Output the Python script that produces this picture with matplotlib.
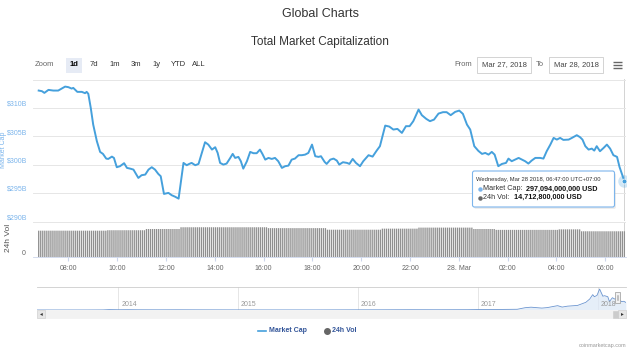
import numpy as np
import matplotlib.pyplot as plt
from matplotlib.patches import Rectangle, FancyBboxPatch
from datetime import datetime, timedelta

W, H = 640, 351
plt.rcParams['font.family'] = ['Liberation Sans', 'DejaVu Sans']

# market cap, minutes after 2018-03-27 06:47 (UTC+7) -> billions USD
cap_minutes = [0, 8, 14, 24, 36, 48, 65, 73, 81, 85,
               95, 106, 114, 118, 122, 128, 134, 143, 151, 158,
               166, 171, 180, 185, 192, 200, 210, 217, 225, 233,
               245, 253, 262, 270, 278, 286, 294, 300, 308, 319,
               327, 335, 344, 356, 364, 370, 376, 385, 393, 401,
               409, 417, 426, 434, 440, 446, 454, 462, 471, 477,
               483, 491, 497, 503, 512, 520, 528, 536, 544, 550,
               557, 565, 573, 581, 589, 598, 606, 614, 622, 630,
               639, 647, 655, 663, 672, 680, 688, 694, 703, 708,
               717, 725, 733, 739, 748, 758, 764, 772, 780, 790,
               798, 811, 821, 831, 839, 852, 862, 872, 882, 893,
               903, 912, 921, 934, 942, 953, 962, 972, 983, 994,
               1003, 1013, 1024, 1034, 1043, 1053, 1061, 1071, 1081, 1090,
               1098, 1106, 1114, 1121, 1130, 1139, 1149, 1155, 1163, 1171,
               1180, 1188, 1196, 1204, 1212, 1221, 1233, 1241, 1249, 1258,
               1266, 1274, 1282, 1290, 1303, 1311, 1323, 1331, 1337, 1344,
               1352, 1360, 1366, 1372, 1380, 1389, 1397, 1405, 1413, 1422,
               1428, 1440]
cap_values = [313.06, 312.95, 312.65, 313.18, 313.06, 313.06, 313.76, 313.66, 313.41, 313.53,
              312.83, 312.83, 312.60, 312.83, 312.48, 310.01, 307.06, 304.13, 302.24, 301.89,
              301.06, 301.00, 301.41, 301.18, 299.54, 299.72, 300.25, 299.42, 299.29, 299.12,
              297.65, 298.13, 298.24, 299.12, 299.54, 299.12, 298.36, 297.95, 294.83, 295.01,
              294.60, 294.35, 294.00, 300.30, 299.89, 300.12, 300.30, 299.89, 300.12, 302.06,
              303.95, 303.53, 302.65, 303.07, 302.06, 300.30, 300.00, 300.18, 301.18, 301.89,
              301.18, 301.36, 300.60, 299.29, 300.60, 302.24, 302.01, 302.01, 302.65, 301.89,
              300.88, 301.18, 301.00, 301.18, 300.60, 299.42, 299.72, 299.82, 300.88, 301.06,
              301.66, 301.66, 301.76, 302.06, 303.53, 301.48, 301.36, 301.48, 300.48, 300.12,
              300.88, 301.06, 300.71, 300.00, 300.42, 300.30, 300.12, 301.00, 300.30, 299.72,
              300.60, 301.66, 301.41, 302.47, 303.25, 306.88, 306.71, 306.18, 306.30, 305.59,
              306.78, 306.78, 307.66, 309.71, 308.72, 308.06, 307.66, 307.94, 309.00, 309.25,
              309.25, 308.72, 309.30, 309.53, 308.95, 307.06, 306.18, 303.25, 302.42, 301.89,
              302.06, 301.76, 302.24, 301.76, 299.72, 300.12, 300.30, 301.06, 300.60, 300.88,
              301.18, 300.88, 300.60, 300.18, 300.71, 301.18, 301.18, 301.06, 302.36, 303.53,
              304.71, 304.41, 304.71, 304.36, 304.41, 304.71, 305.19, 304.84, 304.41, 303.25,
              302.65, 302.82, 302.47, 303.25, 302.36, 302.95, 303.53, 302.82, 301.66, 301.36,
              299.60, 297.09]

# 24h volume (billions USD), flat over stretches starting at these minutes
vol_start_min = [0, 168, 262, 348, 564, 707, 844, 933, 1066, 1122, 1276, 1333]
vol_level = [15.05, 15.3, 16.0, 17.0, 16.5, 15.6, 16.2, 16.8, 16.0, 15.5, 15.8, 14.7]

price_ticks = [290, 295, 300, 305, 310, 315]
price_labels = ['$290B', '$295B', '$300B', '$305B', '$310B', '']
time_labels = ['08:00', '10:00', '12:00', '14:00', '16:00', '18:00',
               '20:00', '22:00', '28. Mar', '02:00', '04:00', '06:00']

# navigator: whole history of total market cap (billions USD)
nav_dates = ['2013-04-28', '2013-06-01', '2013-08-01', '2013-10-01', '2013-11-15', '2013-12-04',
             '2014-01-01', '2014-02-01', '2014-03-01', '2014-05-01', '2014-07-01', '2014-09-01',
             '2014-11-01', '2015-01-15', '2015-03-01', '2015-06-01', '2015-09-01', '2015-11-05',
             '2016-01-01', '2016-03-01', '2016-06-15', '2016-09-01', '2016-12-01', '2017-01-05',
             '2017-03-01', '2017-05-01', '2017-05-25', '2017-06-12', '2017-07-15', '2017-08-01',
             '2017-09-01', '2017-09-15', '2017-10-01', '2017-11-01', '2017-11-26', '2017-12-08',
             '2017-12-17', '2017-12-22', '2017-12-30', '2018-01-07', '2018-01-17', '2018-01-22',
             '2018-02-01', '2018-02-06', '2018-02-15', '2018-02-22', '2018-03-01', '2018-03-07',
             '2018-03-15', '2018-03-22', '2018-03-28']
nav_values = [1.5, 1.2, 1.2, 1.9, 3.5, 15, 10, 12, 8.5, 7, 8.5, 6.5, 5.5, 4.5, 3.6, 3.5, 3.6, 5.5,
              7, 7.5, 11, 9.5, 11.5, 17.5, 20.5, 28, 90, 110, 75, 95, 170, 115, 150, 180, 300, 430,
              600, 520, 570, 820, 540, 560, 520, 330, 480, 430, 440, 400, 330, 340, 297]
nav_years = [2014, 2015, 2016, 2017, 2018]

zoom_buttons = ['1d', '7d', '1m', '3m', '1y', 'YTD', 'ALL']
date_from = 'Mar 27, 2018'
date_to = 'Mar 28, 2018'

tooltip_when = 'Wednesday, Mar 28 2018, 06:47:00 UTC+07:00'
tooltip_cap = 297094000000
tooltip_vol = 14712800000

LINE = '#45a0dc'
start = datetime(2018, 3, 27, 6, 47)
times = [start + timedelta(minutes=m) for m in cap_minutes]
end = times[-1]

fig = plt.figure(figsize=(W / 100, H / 100), dpi=100)
fig.patch.set_facecolor('white')


def box(x0, y0, x1, y1):
    return [x0 / W, 1 - y1 / H, (x1 - x0) / W, (y1 - y0) / H]


# price panel
ax = fig.add_axes(box(33, 79, 626, 221.3))
ax.plot(times, cap_values, color=LINE, lw=1.4, solid_joinstyle='round', zorder=3)
ax.plot([end], [cap_values[-1]], 'o', ms=9, color=LINE, alpha=0.25, mec='none', zorder=4)
ax.plot([end], [cap_values[-1]], 'o', ms=3.5, color=LINE, mec='white', mew=0.5, zorder=5)
ax.axvline(end, color='#cccccc', lw=0.6, zorder=1)
ax.set_ylim(290, 315.1)
ax.set_yticks(price_ticks)
ax.set_yticklabels(price_labels)
for lbl in ax.get_yticklabels():
    lbl.set_va('bottom')
ax.grid(axis='y', color='#e6e6e6', lw=0.7)
ax.tick_params(axis='y', length=0, labelcolor='#7cb5ec', labelsize=5, pad=4)
ax.tick_params(axis='x', length=0, labelbottom=False)
for s in ax.spines.values():
    s.set_visible(False)

# volume panel
axv = fig.add_axes(box(33, 222, 626, 257), sharex=ax)
bar_min = np.arange(0, 1441, 5)
bar_vol = np.array(vol_level)[np.searchsorted(vol_start_min, bar_min, side='right') - 1]
bar_t = [start + timedelta(minutes=int(m)) for m in bar_min]
axv.bar(bar_t, bar_vol, width=3.2 / 1440, color='#8f8f8f', lw=0, snap=False, zorder=2)
axv.axvline(end, color='#cccccc', lw=0.6, zorder=1)
axv.set_ylim(0, 20)
axv.set_yticks([0, 20])
axv.set_yticklabels(['0', ''])
for lbl in axv.get_yticklabels():
    lbl.set_va('bottom')
axv.grid(axis='y', color='#e6e6e6', lw=0.7)
axv.tick_params(axis='y', length=0, labelcolor='#666666', labelsize=5, pad=5.5)
tick_t = [datetime(2018, 3, 27, 8) + timedelta(hours=2 * i) for i in range(len(time_labels))]
axv.set_xticks(tick_t)
axv.set_xticklabels(time_labels)
axv.tick_params(axis='x', length=3, color='#ccd6eb', labelcolor='#666666', labelsize=5, pad=3)
for s in axv.spines.values():
    s.set_visible(False)
axv.spines['bottom'].set_visible(True)
axv.spines['bottom'].set_color('#ccd6eb')
axv.spines['bottom'].set_linewidth(0.6)
ax.set_xlim(start - timedelta(minutes=14), start + timedelta(minutes=1444))

# navigator
axn = fig.add_axes(box(37, 287, 626, 310))
nd = [datetime.strptime(d, '%Y-%m-%d') for d in nav_dates]
axn.fill_between(nd, nav_values, color='#dbe7f6', alpha=0.7, lw=0)
axn.plot(nd, nav_values, color='#6b95d0', lw=0.6)
axn.set_xlim(datetime(2013, 4, 28), datetime(2018, 3, 28, 12))
axn.set_ylim(0, 900)
for yr in nav_years:
    axn.axvline(datetime(yr, 1, 1), color='#e6e6e6', lw=0.7, zorder=0)
    axn.text(datetime(yr, 1, 10), 70, str(yr), fontsize=5, color='#999999', va='bottom')
axn.set_xticks([])
axn.set_yticks([])
for s in axn.spines.values():
    s.set_visible(False)
axn.spines['top'].set_visible(True)
axn.spines['top'].set_color('#cccccc')
axn.spines['top'].set_linewidth(0.6)

# overlay for page elements, in pixel coordinates
ov = fig.add_axes([0, 0, 1, 1])
ov.set_xlim(0, W)
ov.set_ylim(H, 0)
ov.axis('off')
ov.patch.set_visible(False)

ov.text(320, 14, 'Global Charts', ha='center', va='center', fontsize=9, color='#333333')
ov.text(320, 42, 'Total Market Capitalization', ha='center', va='center', fontsize=8.5, color='#333333')

ov.text(44, 65, 'Zoom', ha='center', va='center', fontsize=5.5, color='#666666')
ov.add_patch(Rectangle((65.5, 57.5), 16, 15, color='#e6ebf5', lw=0))
for lbl, xc in zip(zoom_buttons, [73.5, 94, 115, 136, 157, 178, 199]):
    ov.text(xc, 65, lbl, ha='center', va='center', fontsize=5.5,
            color='#000000' if lbl == '1d' else '#333333', fontweight='bold' if lbl == '1d' else 'normal')
ov.text(463, 65, 'From', ha='center', va='center', fontsize=5.5, color='#666666')
ov.add_patch(Rectangle((477, 57), 54, 16, fill=False, ec='#cccccc', lw=0.6))
ov.text(504, 65, date_from, ha='center', va='center', fontsize=5.5, color='#444444')
ov.text(540, 65, 'To', ha='center', va='center', fontsize=5.5, color='#666666')
ov.add_patch(Rectangle((549, 57), 54, 16, fill=False, ec='#cccccc', lw=0.6))
ov.text(576, 65, date_to, ha='center', va='center', fontsize=5.5, color='#444444')
for yy in (62, 65, 68):
    ov.plot([613, 622], [yy, yy], color='#666666', lw=1.0, solid_capstyle='butt')

ov.text(3.5, 150, 'Market Cap', rotation=90, ha='center', va='center', fontsize=5, color='#7cb5ec')
ov.text(8, 238, '24h Vol', rotation=90, ha='center', va='center', fontsize=6, color='#555555')

# tooltip
ov.add_patch(FancyBboxPatch((474, 173), 142, 36, boxstyle='round,pad=0,rounding_size=2',
                            fc='#cccccc', ec='none', alpha=0.35, zorder=5))
ov.add_patch(FancyBboxPatch((472.5, 171), 142, 36, boxstyle='round,pad=0,rounding_size=2',
                            fc='white', ec='#7cb5ec', lw=0.8, zorder=6))
ov.text(476.5, 180, tooltip_when, fontsize=4.2, color='#333333', va='center', zorder=7)
ov.plot([479.5], [189], 'o', ms=2.2, color='#7cb5ec', zorder=7)
ov.text(483, 189, 'Market Cap:', fontsize=5.2, color='#333333', va='center', zorder=7)
ov.text(526.5, 189, f'{tooltip_cap:,} USD', fontsize=5.2, color='#111111', va='center',
        fontweight='bold', zorder=7)
ov.plot([479.5], [197.5], 'o', ms=2.2, color='#666666', zorder=7)
ov.text(483, 197.5, '24h Vol:', fontsize=5.2, color='#333333', va='center', zorder=7)
ov.text(514.5, 197.5, f'{tooltip_vol:,} USD', fontsize=5.2, color='#111111', va='center',
        fontweight='bold', zorder=7)

# navigator handle and scrollbar
ov.add_patch(Rectangle((615, 292), 5, 11, fc='#f2f2f2', ec='#999999', lw=0.5))
ov.plot([616.8, 616.8], [295, 300], color='#999999', lw=0.4)
ov.plot([618.2, 618.2], [295, 300], color='#999999', lw=0.4)
ov.add_patch(Rectangle((37, 310), 589, 8, fc='#f2f2f2', ec='#f2f2f2', lw=0.5))
ov.add_patch(Rectangle((37, 310), 8, 8, fc='#e6e6e6', ec='#cccccc', lw=0.4))
ov.add_patch(Rectangle((618, 310), 8, 8, fc='#e6e6e6', ec='#cccccc', lw=0.4))
ov.add_patch(Rectangle((613, 310.5), 5, 7, fc='#cccccc', ec='#cccccc', lw=0.4))
ov.text(41, 314, '◂', ha='center', va='center', fontsize=4, color='#333333')
ov.text(622, 314, '▸', ha='center', va='center', fontsize=4, color='#333333')

# legend
ov.plot([258, 266], [331, 331], color=LINE, lw=1.2)
ov.text(269, 331, 'Market Cap', fontsize=5, color='#335599', fontweight='bold', va='center')
ov.plot([327], [331], 'o', ms=4, color='#666666')
ov.text(332, 331, '24h Vol', fontsize=5, color='#335599', fontweight='bold', va='center')

ov.text(626, 345, 'coinmarketcap.com', ha='right', va='center', fontsize=4, color='#999999')

fig.savefig('out.png', dpi=100, facecolor='white')
